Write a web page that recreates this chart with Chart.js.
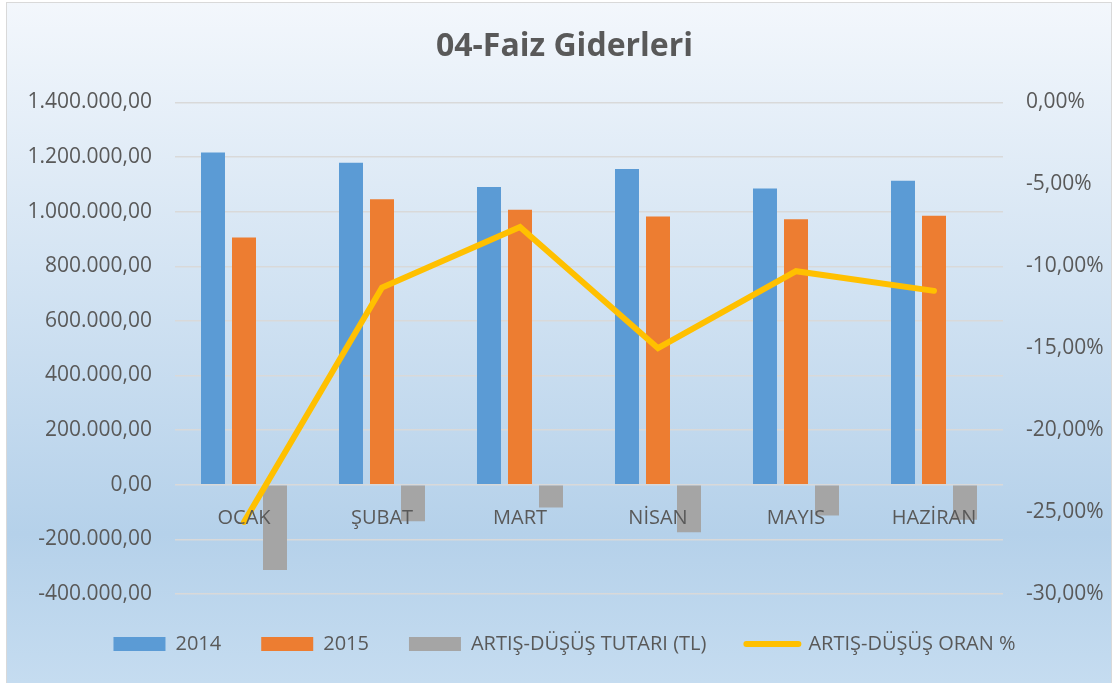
<!DOCTYPE html>
<html>
<head>
<meta charset="utf-8">
<script src="https://cdn.jsdelivr.net/npm/chart.js@4"></script>
<style>
  body { margin: 0; background: #fff; }
  #wrap { width: 1117px; height: 683px; }
</style>
</head>
<body>
<div id="wrap"><canvas id="grafik"></canvas></div>
<script>
const aylar = ["OCAK", "ŞUBAT", "MART", "NİSAN", "MAYIS", "HAZİRAN"];
const yil2014 = [1217000, 1179000, 1090000, 1156000, 1085000, 1113000];
const yil2015 = [905000, 1045000, 1007000, 982000, 972000, 985000];
const artisTutar = [-312000, -134000, -83000, -174000, -113000, -128000];
const artisOran = [-0.256, -0.113, -0.076, -0.15, -0.103, -0.115];

const griYazi = "#595959";
const yazi = "'Open Sans', sans-serif";

// TL formatı: 1.400.000,00
function tlFormat(v) {
  const neg = v < 0;
  let s = Math.abs(Math.round(v)).toString();
  s = s.replace(/\B(?=(\d{3})+(?!\d))/g, ".");
  return (neg ? "-" : "") + s + ",00";
}

function yuzdeFormat(v) {
  let s = (Math.abs(v) * 100).toFixed(2).replace(".", ",");
  if (v < -1e-9) s = "-" + s;
  return s + "%";
}

// arka plan gradyanı ve çerçeve
const arkaPlan = {
  id: "arkaPlan",
  beforeDraw(chart) {
    const c = chart.ctx;
    c.save();
    c.fillStyle = "#ffffff";
    c.fillRect(0, 0, chart.width, chart.height);
    const g = c.createLinearGradient(0, 3, 0, chart.height);
    g.addColorStop(0, "#f3f7fc");
    g.addColorStop(0.78, "#b5d1ea");
    g.addColorStop(1, "#c5dcf0");
    c.fillStyle = g;
    c.fillRect(7, 3, 1104, chart.height);
    c.strokeStyle = "#d9d9d9";
    c.lineWidth = 1;
    c.strokeRect(6.5, 2.5, 1105, chart.height + 5);
    c.restore();
  }
};

const ctx = document.getElementById("grafik");

new Chart(ctx, {
  data: {
    labels: aylar,
    datasets: [
      {
        type: "bar",
        label: "2014",
        data: yil2014,
        backgroundColor: "#5b9bd5",
        yAxisID: "y",
        order: 1
      },
      {
        type: "bar",
        label: "2015",
        data: yil2015,
        backgroundColor: "#ed7d31",
        yAxisID: "y",
        order: 1
      },
      {
        type: "bar",
        label: "ARTIŞ-DÜŞÜŞ TUTARI (TL)",
        data: artisTutar,
        backgroundColor: "#a5a5a5",
        yAxisID: "y",
        order: 1
      },
      {
        type: "line",
        label: "ARTIŞ-DÜŞÜŞ ORAN %",
        data: artisOran,
        borderColor: "#ffc000",
        backgroundColor: "#ffc000",
        borderWidth: 6,
        borderCapStyle: "round",
        borderJoinStyle: "miter",
        pointRadius: 0,
        pointHoverRadius: 0,
        tension: 0,
        yAxisID: "y1",
        order: 0
      }
    ]
  },
  options: {
    responsive: true,
    maintainAspectRatio: false,
    animation: false,
    devicePixelRatio: 1,
    categoryPercentage: 0.674,
    barPercentage: 0.774,
    layout: {
      padding: { left: 16, right: 4, top: 0, bottom: 19 }
    },
    plugins: {
      title: {
        display: true,
        text: "04-Faiz Giderleri",
        color: griYazi,
        font: { family: yazi, size: 32, weight: "bold" },
        padding: { top: 28, bottom: 36 }
      },
      legend: {
        position: "bottom",
        labels: {
          color: griYazi,
          font: { family: yazi, size: 20 },
          usePointStyle: true,
          pointStyleWidth: 52,
          boxHeight: 14,
          padding: 40,
          sort: (a, b) => a.datasetIndex - b.datasetIndex,
          generateLabels(chart) {
            const items = Chart.defaults.plugins.legend.labels.generateLabels(chart);
            items.forEach((it) => {
              const ds = chart.data.datasets[it.datasetIndex];
              if (ds.type === "line") {
                it.pointStyle = "line";
                it.lineWidth = 6;
                it.lineCap = "round";
                it.strokeStyle = "#ffc000";
              } else {
                it.pointStyle = "rect";
                it.lineWidth = 0;
              }
              it.fontColor = griYazi;
            });
            return items;
          }
        }
      },
      tooltip: { enabled: false }
    },
    scales: {
      x: {
        type: "category",
        position: { y: 0 },
        grid: { display: false, drawTicks: false },
        border: { display: false },
        ticks: {
          color: griYazi,
          font: { family: yazi, size: 20 },
          padding: 22,
          maxRotation: 0,
          z: 1
        }
      },
      y: {
        position: "left",
        min: -400000,
        max: 1400000,
        grid: { color: "#d9d9d9", lineWidth: 1.5, drawTicks: false },
        border: { display: false },
        ticks: {
          stepSize: 200000,
          color: griYazi,
          font: { family: yazi, size: 21 },
          padding: 23,
          callback: (v) => tlFormat(v)
        },
        afterFit: (s) => { s.width = 159; }
      },
      y1: {
        position: "right",
        min: -0.3,
        max: 0,
        grid: { display: false, drawTicks: false },
        border: { display: false },
        ticks: {
          stepSize: 0.05,
          color: griYazi,
          font: { family: yazi, size: 21 },
          padding: 23,
          callback: (v) => yuzdeFormat(v)
        },
        afterFit: (s) => { s.width = 110; }
      }
    }
  },
  plugins: [arkaPlan]
});
</script>
</body>
</html>
